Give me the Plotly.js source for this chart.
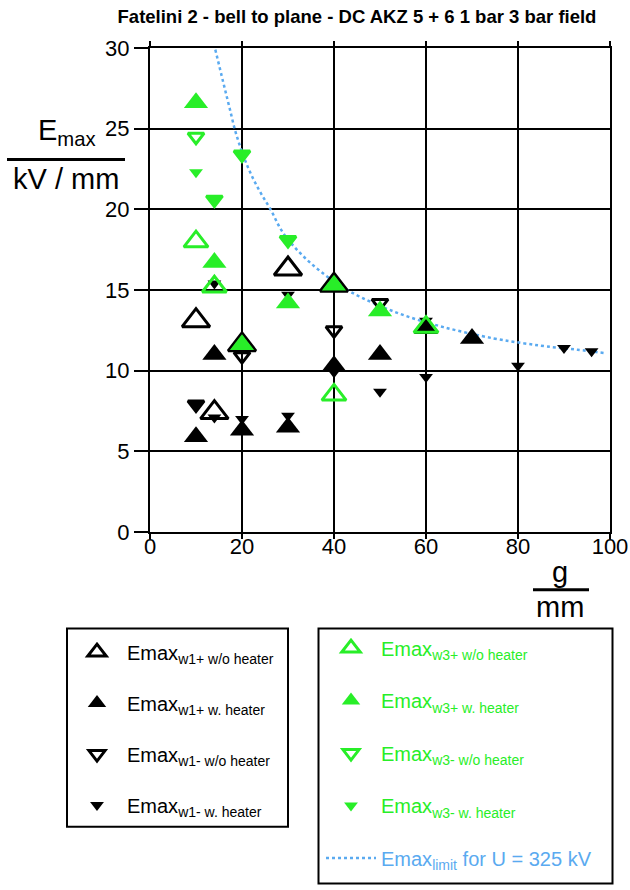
<!DOCTYPE html>
<html>
<head>
<meta charset="utf-8">
<script src="https://cdn.plot.ly/plotly-3.0.1.min.js"></script>
<style>html,body{margin:0;padding:0;background:#fff;}#chart{width:630px;height:890px;}</style>
</head>
<body>
<div id="chart"></div>
<script>
// ---- data (g in mm, Emax in kV/mm) ----
const w1pOpenX   = [10, 14, 20, 30, 40];
const w1pOpenY   = [13.1, 7.4, 11.6, 16.3, 15.3];
const w1pFillX   = [10, 14, 20, 30, 40, 50, 60, 70];
const w1pFillY   = [5.9, 11.0, 6.3, 6.5, 10.3, 11.0, 12.6, 12.0];
const w1mOpenX   = [10, 20, 40, 50];
const w1mOpenY   = [7.9, 10.9, 12.5, 14.2];
const w1mFillX   = [10, 14, 14, 20, 30, 30, 40, 50, 60, 60, 80, 90, 96];
const w1mFillY   = [7.9, 7.1, 15.4, 7.0, 7.2, 14.7, 9.9, 8.7, 13.1, 9.6, 10.3, 11.4, 11.2];

const w3pOpenX   = [10, 14, 40, 60];
const w3pOpenY   = [18.0, 15.2, 8.5, 12.7];
const w3pFillX   = [10, 14, 20, 30, 40, 50];
const w3pFillY   = [26.6, 16.7, 11.6, 14.2, 15.3, 13.7];
const w3mOpenX   = [10, 14, 20, 30];
const w3mOpenY   = [24.5, 20.6, 23.4, 18.1];
const w3mFillX   = [10, 14, 20, 30];
const w3mFillY   = [22.3, 20.6, 23.4, 18.1];

const limitX = [14.2, 15.9, 17.2, 18.8, 21.3, 23.7, 26.2, 28.8, 32.6, 37.3, 43.5, 53.6, 63.8, 74.7, 81.2, 86.3, 92.9, 98.6];
const limitY = [29.9, 27.9, 26.4, 24.6, 22.6, 21.2, 20.0, 18.6, 17.3, 16.1, 14.9, 13.6, 12.7, 12.0, 11.7, 11.5, 11.3, 11.1];

const xTicks = [0, 20, 40, 60, 80, 100];
const yTicks = [0, 5, 10, 15, 20, 25, 30];

// ---- styling ----
const GREEN = '#28ee28';
const BLUE = '#5aaaf0';
const FONT = 'Liberation Sans, Arial, Helvetica, sans-serif';
const M = {l: 150, r: 20, t: 48, b: 356};
const W = 630 - M.l - M.r, H = 890 - M.t - M.b;
const px = x => (x - M.l) / W;
const py = y => (M.t + H - y) / H;

function mk(x, y, name, symbol, size, color, lw, legend, rank) {
  return {
    type: 'scatter', mode: 'markers', x: x, y: y, name: name,
    legend: legend, legendgroup: name, legendrank: rank,
    marker: {symbol: symbol, size: size, color: color,
             line: {color: color, width: lw}},
    hoverinfo: 'x+y'
  };
}

const traces = [
  {type: 'scatter', mode: 'lines', x: limitX, y: limitY, line: {shape: 'spline', dash: 'dot', color: BLUE, width: 2.5},
   name: '<span style="color:' + BLUE + '">Emax<sub>limit</sub> for U = 325 kV</span>', legend: 'legend2', legendgroup: 'lim', legendrank: 9},
  mk(w1pOpenX, w1pOpenY, 'Emax<sub>w1+ w/o heater</sub>', 'triangle-up-open', 24, 'black', 3, 'legend', 1),
  mk(w1pFillX, w1pFillY, 'Emax<sub>w1+ w. heater</sub>', 'triangle-up', 21, 'black', 0, 'legend', 2),
  mk(w1mOpenX, w1mOpenY, 'Emax<sub>w1- w/o heater</sub>', 'triangle-down-open', 14, 'black', 3, 'legend', 3),
  mk(w1mFillX, w1mFillY, 'Emax<sub>w1- w. heater</sub>', 'triangle-down', 12, 'black', 0, 'legend', 4),
  mk(w3pOpenX, w3pOpenY, 'Emax<sub>w3+ w/o heater</sub>', 'triangle-up-open', 21, GREEN, 3, 'legend2', 5),
  mk(w3pFillX, w3pFillY, 'Emax<sub>w3+ w. heater</sub>', 'triangle-up', 21, GREEN, 0, 'legend2', 6),
  mk(w3mOpenX, w3mOpenY, 'Emax<sub>w3- w/o heater</sub>', 'triangle-down-open', 14, GREEN, 3, 'legend2', 7),
  mk(w3mFillX, w3mFillY, 'Emax<sub>w3- w. heater</sub>', 'triangle-down', 12, GREEN, 0, 'legend2', 8)
];

const legendCommon = {
  xanchor: 'left', yanchor: 'top', bgcolor: 'rgba(0,0,0,0)', borderwidth: 0,
  itemwidth: 50, itemclick: false, itemdoubleclick: false
};

const layout = {
  width: 630, height: 890,
  margin: M,
  paper_bgcolor: 'white', plot_bgcolor: 'white',
  font: {family: FONT, color: 'black'},
  showlegend: true,
  title: {text: '<b>Fatelini 2 - bell to plane - DC AKZ 5 + 6 1 bar 3 bar field</b>',
          font: {family: FONT, size: 18.5, color: 'black'},
          xref: 'container', yref: 'container', x: 357 / 630, xanchor: 'center', y: 1 - 17 / 890, yanchor: 'middle'},
  xaxis: {range: [0, 100], tickvals: xTicks, ticktext: xTicks.map(String),
          showgrid: true, gridcolor: 'black', gridwidth: 2, zeroline: false,
          showline: true, linecolor: 'black', linewidth: 2, mirror: 'ticks',
          ticks: 'outside', ticklen: 5, tickwidth: 2, tickcolor: 'black', ticklabelstandoff: -11,
          tickfont: {family: FONT, size: 22, color: 'black'}, fixedrange: true},
  yaxis: {range: [0, 30], tickvals: yTicks, ticktext: yTicks.map(String),
          showgrid: true, gridcolor: 'black', gridwidth: 2, zeroline: false,
          showline: true, linecolor: 'black', linewidth: 2, mirror: true,
          ticks: 'outside', ticklen: 14, tickwidth: 2, tickcolor: 'black',
          tickfont: {family: FONT, size: 22, color: 'black'}, fixedrange: true},
  legend: Object.assign({}, legendCommon, {x: px(67), y: py(635), tracegroupgap: 22,
          font: {family: FONT, size: 20, color: 'black'}}),
  legend2: Object.assign({}, legendCommon, {x: px(321), y: py(631), tracegroupgap: 23.5,
          font: {family: FONT, size: 20, color: GREEN}}),
  shapes: [
    // legend boxes
    {type: 'rect', xref: 'paper', yref: 'paper', x0: px(67), x1: px(288), y0: py(631), y1: py(830), line: {color: 'black', width: 2}},
    {type: 'rect', xref: 'paper', yref: 'paper', x0: px(318.5), x1: px(612.5), y0: py(631), y1: py(887), line: {color: 'black', width: 2}},
    // fraction bars of axis titles
    {type: 'line', xref: 'paper', yref: 'paper', x0: px(7), x1: px(125), y0: py(160), y1: py(160), line: {color: 'black', width: 3}},
    {type: 'line', xref: 'paper', yref: 'paper', x0: px(533), x1: px(589), y0: py(592), y1: py(592), line: {color: 'black', width: 3}}
  ],
  annotations: [
    {xref: 'paper', yref: 'paper', x: px(67), y: py(132), text: 'E<sub>max</sub>', showarrow: false,
     xanchor: 'center', yanchor: 'middle', font: {family: FONT, size: 29, color: 'black'}},
    {xref: 'paper', yref: 'paper', x: px(66), y: py(180), text: 'kV / mm', showarrow: false,
     xanchor: 'center', yanchor: 'middle', font: {family: FONT, size: 29, color: 'black'}},
    {xref: 'paper', yref: 'paper', x: px(560), y: py(574), text: 'g', showarrow: false,
     xanchor: 'center', yanchor: 'middle', font: {family: FONT, size: 29, color: 'black'}},
    {xref: 'paper', yref: 'paper', x: px(560), y: py(609), text: 'mm', showarrow: false,
     xanchor: 'center', yanchor: 'middle', font: {family: FONT, size: 29, color: 'black'}}
  ]
};

Plotly.newPlot('chart', traces, layout, {displayModeBar: false, staticPlot: false});
</script>
</body>
</html>
